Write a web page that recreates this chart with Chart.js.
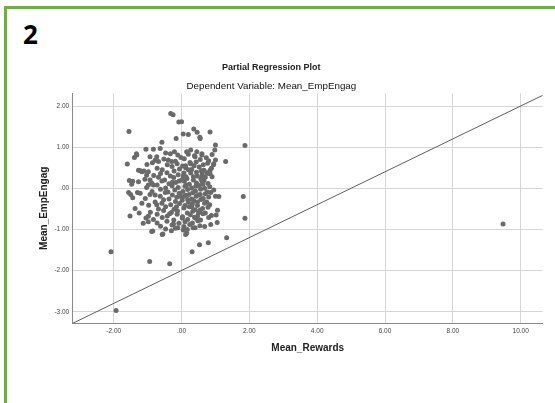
<!DOCTYPE html>
<html>
<head>
<meta charset="utf-8">
<script src="https://cdn.jsdelivr.net/npm/chart.js@4/dist/chart.umd.min.js"></script>
<style>
html, body { margin:0; padding:0; background:#fff; }
#page { position:relative; width:555px; height:403px; overflow:hidden; }
#frameTop { position:absolute; left:4px; top:6px; width:551px; height:3px; background:#70ad47; }
#frameLeft { position:absolute; left:4px; top:6px; width:3px; height:397px; background:#70ad47; }
#num { position:absolute; left:23px; top:21px; font:bold 26px "Open Sans"; line-height:1; color:#000; }
#myChart { position:absolute; left:0; top:0; }
</style>
</head>
<body>
<div id="page">
  <div id="frameTop"></div>
  <div id="frameLeft"></div>
  <div id="num">2</div>
  <canvas id="myChart" width="555" height="403"></canvas>
</div>
<script>
// ================= data =================
// [Mean_Rewards residual, Mean_EmpEngag residual]
const points = [
  // outer points
  [-0.32,1.82],[-0.25,1.79],[-0.08,1.61],[0.0,1.62],[-1.55,1.38],[0.05,1.32],[0.2,1.31],[0.36,1.44],
  [0.46,1.36],[0.54,1.24],[0.84,1.37],[1.0,1.05],[0.98,0.93],[1.87,1.04],[-0.16,1.21],[-0.58,1.12],
  [-0.63,0.97],[-1.05,0.95],[-1.33,0.84],[-1.39,0.75],[-1.6,0.59],[-1.21,0.43],[-1.11,0.42],[-1.54,0.19],
  [-1.44,0.17],[-1.56,-0.1],[-1.44,-0.23],[-1.52,-0.67],[-2.08,-1.54],[-0.94,-1.78],[-0.35,-1.83],[0.31,-1.54],
  [0.53,-1.37],[0.79,-1.32],[1.33,-1.2],[1.87,-0.73],[1.82,-0.2],[1.3,0.65],[0.95,0.6],[1.0,0.69],
  [-1.93,-2.97],[9.48,-0.87],[1.06,-0.53],[1.02,-0.65],[1.0,-0.19],[1.1,-0.2],[0.95,-0.04],[0.55,1.21],
  [0.94,0.57],[0.84,0.44],[0.79,0.36],[0.6,0.81],[0.4,0.77],[-1.27,0.44],[-1.17,0.4],[-1.03,0.32],
  [-0.93,0.2],[-0.98,0.08],[-1.27,0.16],[-1.22,-0.12],[-1.17,-0.36],[-0.83,0.08],[-0.78,-0.16],[-0.73,-0.4],
  [-0.85,-1.04],[-0.57,-1.12],[-0.3,-1.03],[-0.11,-0.96],[0.12,-1.12],[0.34,-0.96],[0.54,-0.91],[0.86,-0.88],
  [1.05,-0.83],[-0.73,0.77],[-0.68,0.65],[-0.39,0.69],[-0.29,0.65],[-0.21,0.89],[-0.11,0.81],[0.15,0.89],
  [0.2,0.83],[0.45,0.89],[-1.32,0.81],[-1.13,-0.85],[-0.98,-0.81],[-1.37,-0.49],[-1.25,-0.6],[-1.05,-0.72],
  [-0.88,-1.05],[-0.55,-1.11],[-0.24,-0.87],[0.05,-1.01],[0.15,-1.09],[-1.47,0.1],[-1.5,-0.15],[-1.3,-0.1],
  // dense middle
  [-0.83,0.95],[-0.47,0.86],[0.27,0.93],[0.6,0.84],
  [-0.93,0.77],[-0.33,0.84],[-0.02,0.75],[0.38,0.79],[0.73,0.74],[0.9,0.82],
  [-0.78,0.68],[-0.52,0.71],[-0.18,0.66],[0.08,0.72],[0.43,0.64],[0.55,0.7],[0.8,0.67],
  [-1.02,0.58],[-0.86,0.62],[-0.42,0.57],[-0.13,0.6],[0.03,0.54],[0.25,0.63],[0.37,0.55],[0.64,0.57],[0.77,0.61],
  [-0.72,0.49],[-0.57,0.45],[-0.28,0.53],[-0.06,0.47],[0.12,0.5],[0.3,0.46],[0.52,0.52],[0.66,0.44],[0.88,0.49],
  [-0.98,0.4],[-0.43,0.38],[-0.22,0.42],[0.07,0.37],[0.2,0.45],[0.44,0.39],[0.58,0.43],[0.75,0.38],
  [-0.82,0.31],[-0.62,0.36],[-0.33,0.3],[-0.1,0.33],[0.13,0.28],[0.27,0.37],[0.46,0.3],[0.61,0.34],[0.7,0.27],[0.84,0.36],
  [-1.08,0.22],[-0.68,0.27],[-0.5,0.2],[-0.23,0.26],[0.01,0.21],[0.16,0.24],[0.35,0.2],[0.57,0.23],[0.66,0.19],[0.9,0.28],
  [-0.88,0.13],[-0.58,0.18],[-0.37,0.11],[-0.17,0.14],[0.08,0.17],[0.23,0.1],[0.44,0.13],[0.6,0.17],[0.78,0.12],
  [-1.03,0.02],[-0.72,0.08],[-0.47,0.01],[-0.28,0.06],[-0.1,0.02],[0.14,0.08],[0.3,0.01],[0.52,0.07],[0.68,0.0],[0.83,0.04],
  [-0.87,-0.08],[-0.62,-0.02],[-0.4,-0.09],[-0.2,-0.04],[0.04,-0.08],[0.18,-0.03],[0.41,-0.07],[0.56,-0.02],[0.76,-0.09],
  [-0.93,-0.15],[-0.48,-0.1],[-0.27,-0.16],[-0.07,-0.12],[0.13,-0.17],[0.33,-0.11],[0.5,-0.16],[0.7,-0.13],[0.86,-0.1],
  [-1.07,-0.25],[-0.63,-0.19],[-0.37,-0.26],[-0.14,-0.22],[0.06,-0.2],[0.3,-0.26],[0.43,-0.19],[0.64,-0.25],[0.8,-0.21],
  [-0.78,-0.33],[-0.53,-0.28],[-0.18,-0.32],[0.02,-0.29],[0.2,-0.34],[0.36,-0.3],[0.57,-0.27],[0.74,-0.33],
  [-0.97,-0.41],[-0.58,-0.36],[-0.32,-0.4],[-0.06,-0.37],[0.1,-0.42],[0.32,-0.38],[0.47,-0.42],[0.68,-0.36],[0.83,-0.4],
  [-0.68,-0.5],[-0.47,-0.45],[-0.22,-0.51],[0.07,-0.48],[0.23,-0.45],[0.4,-0.52],[0.62,-0.49],[0.78,-0.46],
  [-0.92,-0.58],[-0.53,-0.54],[-0.3,-0.59],[-0.12,-0.55],[0.17,-0.6],[0.33,-0.56],[0.54,-0.53],[0.7,-0.6],
  [-0.98,-0.68],[-0.72,-0.63],[-0.42,-0.67],[-0.13,-0.63],[0.03,-0.69],[0.26,-0.64],[0.47,-0.68],[0.63,-0.62],[0.88,-0.66],
  [-0.83,-0.76],[-0.57,-0.71],[-0.23,-0.77],[0.02,-0.72],[0.18,-0.76],[0.42,-0.73],[0.56,-0.77],[0.8,-0.71],
  [-0.72,-0.84],[-0.43,-0.8],[-0.08,-0.85],[0.1,-0.81],[0.32,-0.84],[0.48,-0.79],
  [-0.62,-0.92],[-0.28,-0.89],[0.07,-0.93],[0.24,-0.88],[0.68,-0.93],
  [-0.47,-0.99],[-0.18,-0.97],[0.17,-1.0],[0.4,-0.96],
  [0.1,0.05],[0.22,-0.15],[0.35,0.28],[0.47,-0.33],[-0.07,0.18],[0.3,-0.45],[0.42,0.05],[0.18,-0.27],
  [-0.15,-0.45],[0.55,-0.15],[0.63,0.1],[0.05,0.3],[-0.02,-0.2],[0.27,0.6],[0.5,-0.6],[-0.35,-0.62],
  [0.38,-0.7],[0.12,0.55],[-0.27,0.15],[0.6,0.3]
];

// fit line end points (as read at the plot edges)
const fitX = [-3.21, 10.65];
const fitY = [-3.28, 2.26];

const xTicks = [-2, 0, 2, 4, 6, 8, 10];
const xTickLabels = ['-2.00', '.00', '2.00', '4.00', '6.00', '8.00', '10.00'];
const yTicks = [-3, -2, -1, 0, 1, 2];
const yTickLabels = ['-3.00', '-2.00', '-1.00', '.00', '1.00', '2.00'];

const xRange = [-3.21, 10.65];
const yRange = [-3.28, 2.31];

// ================= chart =================
const ctx = document.getElementById('myChart').getContext('2d');
const fontName = '"Liberation Sans", Arial, sans-serif';

const chart = new Chart(ctx, {
  type: 'scatter',
  data: {
    datasets: [{
      label: 'Mean_EmpEngag',
      data: points.map(p => ({ x: p[0], y: p[1] })),
      pointRadius: 2.5,
      pointHoverRadius: 2.5,
      pointBackgroundColor: '#6a6a6a',
      pointBorderWidth: 0
    }, {
      type: 'line',
      label: 'fit',
      data: fitX.map((x, i) => ({ x: x, y: fitY[i] })),
      borderColor: '#5e5e5e',
      borderWidth: 1,
      pointRadius: 0,
      fill: false
    }]
  },
  options: {
    responsive: false,
    animation: false,
    events: [],
    layout: { padding: { left: 0, right: 12.3, top: 0, bottom: 0 } },
    plugins: {
      legend: { display: false },
      tooltip: { enabled: false },
      title: {
        display: true,
        text: 'Partial Regression Plot',
        color: '#222',
        font: { family: fontName, size: 9, weight: 'bold', lineHeight: 1.2 },
        padding: { top: 62, bottom: 2 }
      },
      subtitle: {
        display: true,
        text: 'Dependent Variable: Mean_EmpEngag',
        color: '#111',
        font: { family: fontName, size: 9.8, lineHeight: 1.2 },
        padding: { top: 6, bottom: 0.7 }
      }
    },
    scales: {
      x: {
        type: 'linear',
        min: xRange[0],
        max: xRange[1],
        afterFit: s => { s.height = 79.7 },
        afterBuildTicks: s => { s.ticks = xTicks.map(v => ({ value: v })) },
        ticks: {
          padding: 4,
          color: '#444',
          font: { family: fontName, size: 6.5 },
          maxRotation: 0,
          callback: (v, i) => xTickLabels[i]
        },
        grid: { color: '#d6d6d6', lineWidth: 1, drawTicks: false },
        border: { color: '#8a8a8a', width: 1 },
        title: {
          display: true,
          text: 'Mean_Rewards',
          color: '#222',
          font: { family: fontName, size: 10, weight: 'bold', lineHeight: 1.2 },
          padding: { top: 0, bottom: 48.6 }
        }
      },
      y: {
        type: 'linear',
        min: yRange[0],
        max: yRange[1],
        afterFit: s => { s.width = 72.7 },
        afterBuildTicks: s => { s.ticks = yTicks.map(v => ({ value: v })) },
        ticks: {
          padding: 3.5,
          color: '#444',
          font: { family: fontName, size: 6.5 },
          callback: (v, i) => yTickLabels[i]
        },
        grid: { color: '#d6d6d6', lineWidth: 1, drawTicks: false },
        border: { color: '#8a8a8a', width: 1 },
        title: {
          display: true,
          text: 'Mean_EmpEngag',
          color: '#222',
          font: { family: fontName, size: 10, weight: 'bold', lineHeight: 1.2 },
          padding: { top: 38, bottom: 0 }
        }
      }
    }
  }
});
</script>
</body>
</html>
